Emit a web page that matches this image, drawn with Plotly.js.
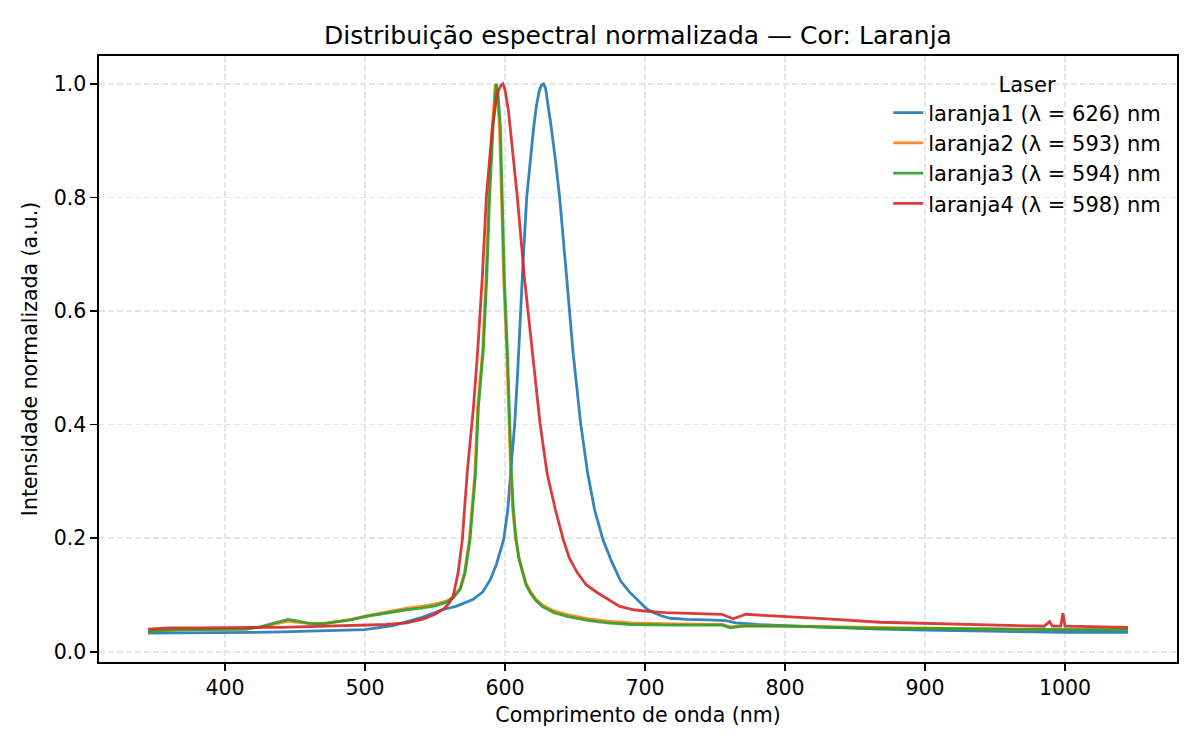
<!DOCTYPE html>
<html>
<head>
<meta charset="utf-8">
<script src="https://cdn.plot.ly/plotly-3.0.1.min.js"></script>
<style>
  body { margin: 0; background: #fff; }
  #grafico { width: 1200px; height: 750px; }
</style>
</head>
<body>
<div id="grafico"></div>
<script>
// Espectros normalizados (comprimento de onda em nm, intensidade normalizada)
const nomes = ['laranja1 (λ = 626) nm', 'laranja2 (λ = 593) nm', 'laranja3 (λ = 594) nm', 'laranja4 (λ = 598) nm'];
const cores = ['#1f77b4', '#ff7f0e', '#2ca02c', '#d62728'];

const wl1 = [345, 360, 380, 400, 420, 440, 460, 480, 500, 520, 540, 555, 565, 577, 584, 589.5, 594, 599, 602, 604, 607, 609, 611, 613, 615.5, 618, 620.5, 622.5, 624.5, 626, 627.5, 629, 631, 633, 636, 639, 644, 648.5, 654, 659, 664, 670, 676, 682.5, 689, 695, 701, 706, 712, 718, 730, 745, 758, 765, 780, 800, 820, 840, 868, 900, 940, 980, 1000, 1020, 1045];
const int1 = [0.033, 0.033, 0.033, 0.034, 0.034, 0.035, 0.036, 0.037, 0.039, 0.046, 0.060, 0.074, 0.080, 0.092, 0.105, 0.127, 0.155, 0.197, 0.250, 0.315, 0.403, 0.490, 0.600, 0.690, 0.800, 0.866, 0.924, 0.962, 0.988, 0.998, 1.000, 0.992, 0.962, 0.924, 0.866, 0.801, 0.660, 0.530, 0.403, 0.315, 0.250, 0.197, 0.160, 0.125, 0.105, 0.090, 0.076, 0.069, 0.063, 0.059, 0.057, 0.056, 0.055, 0.051, 0.048, 0.046, 0.044, 0.042, 0.040, 0.038, 0.036, 0.035, 0.034, 0.034, 0.034];

const wl2 = [345, 360, 380, 400, 415, 425, 435, 445, 452, 460, 470, 480, 490, 500, 510, 520, 530, 540, 550, 558, 563, 568, 571, 574.5, 578.5, 580.5, 584, 586.5, 588.5, 591, 593, 594.5, 596, 597.5, 599, 601.2, 602.5, 604, 605.5, 607.5, 610, 612.4, 615, 618, 622, 627, 635, 645, 660, 673, 690, 720, 740, 755, 761, 770, 800, 830, 868, 900, 940, 980, 1000, 1045];
const int2 = [0.036, 0.038, 0.039, 0.040, 0.040, 0.043, 0.049, 0.054, 0.052, 0.050, 0.050, 0.053, 0.057, 0.063, 0.068, 0.073, 0.077, 0.080, 0.084, 0.089, 0.096, 0.112, 0.139, 0.197, 0.315, 0.431, 0.530, 0.660, 0.801, 0.924, 1.000, 0.985, 0.924, 0.801, 0.660, 0.530, 0.420, 0.320, 0.250, 0.200, 0.166, 0.142, 0.121, 0.107, 0.093, 0.082, 0.072, 0.065, 0.058, 0.054, 0.051, 0.049, 0.049, 0.048, 0.044, 0.046, 0.045, 0.044, 0.042, 0.041, 0.040, 0.039, 0.039, 0.039];

const wl3 = [345, 360, 380, 400, 415, 425, 435, 445, 452, 460, 470, 480, 490, 500, 510, 520, 530, 540, 550, 558, 563, 568, 571.5, 575, 579, 581, 584.5, 587, 589, 591.5, 593.8, 595, 596.7, 598, 599.5, 601.7, 603, 604.5, 606, 608, 610, 612.4, 615, 618, 622, 627, 635, 645, 660, 673, 690, 720, 740, 755, 761, 770, 800, 830, 868, 900, 940, 980, 1000, 1045];
const int3 = [0.036, 0.038, 0.039, 0.040, 0.040, 0.044, 0.051, 0.057, 0.054, 0.050, 0.049, 0.052, 0.056, 0.062, 0.066, 0.071, 0.074, 0.077, 0.081, 0.087, 0.095, 0.110, 0.139, 0.197, 0.315, 0.431, 0.530, 0.660, 0.801, 0.924, 1.000, 0.985, 0.924, 0.801, 0.660, 0.530, 0.420, 0.320, 0.250, 0.197, 0.163, 0.139, 0.118, 0.104, 0.090, 0.079, 0.069, 0.062, 0.055, 0.051, 0.048, 0.047, 0.047, 0.047, 0.042, 0.045, 0.045, 0.043, 0.041, 0.041, 0.040, 0.039, 0.039, 0.039];

const wl4 = [345, 360, 380, 400, 420, 440, 460, 480, 500, 515, 530, 542, 550, 556, 560, 563, 566.5, 569.5, 573, 577.5, 580.5, 583.8, 586.7, 589, 591, 594.5, 597, 598.5, 600, 602.4, 606, 608.8, 613.8, 618, 620, 625, 630, 636, 641.7, 646, 651.7, 658, 666, 673, 682, 692, 702, 715, 730, 745, 755, 763, 772, 785, 802, 830, 868, 900, 920, 960, 985, 989, 991, 997, 998.5, 1000, 1020, 1045];
const int4 = [0.040, 0.042, 0.042, 0.043, 0.043, 0.043, 0.044, 0.045, 0.046, 0.048, 0.051, 0.058, 0.066, 0.075, 0.085, 0.098, 0.139, 0.197, 0.315, 0.431, 0.530, 0.660, 0.801, 0.870, 0.924, 0.984, 0.997, 1.000, 0.990, 0.954, 0.866, 0.801, 0.660, 0.560, 0.514, 0.403, 0.315, 0.250, 0.197, 0.165, 0.139, 0.118, 0.104, 0.093, 0.080, 0.074, 0.071, 0.069, 0.068, 0.068, 0.066, 0.058, 0.066, 0.064, 0.062, 0.058, 0.052, 0.050, 0.048, 0.046, 0.045, 0.053, 0.045, 0.045, 0.068, 0.045, 0.044, 0.043];

const xTicks = [400, 500, 600, 700, 800, 900, 1000];
const yTicks = [0.0, 0.2, 0.4, 0.6, 0.8, 1.0];

const fonte = 'DejaVu Sans, sans-serif';
const series = [[wl1, int1], [wl2, int2], [wl3, int3], [wl4, int4]];

const data = series.map((s, i) => ({
    x: s[0],
    y: s[1],
    type: 'scatter',
    mode: 'lines',
    name: nomes[i],
    opacity: 0.9,
    line: { color: cores[i], width: 2.8 }
}));

const eixoBase = {
    showline: true,
    mirror: true,
    linecolor: '#000',
    linewidth: 1.6,
    ticks: 'outside',
    ticklen: 7,
    tickwidth: 1.6,
    tickcolor: '#000',
    showgrid: true,
    gridcolor: '#e6e6e6',
    gridwidth: 1.5,
    griddash: '6px,3px',
    zeroline: false,
    tickfont: { family: fonte, size: 20.5, color: '#000' }
};

const layout = {
    width: 1200,
    height: 750,
    paper_bgcolor: '#fff',
    plot_bgcolor: '#fff',
    margin: { l: 99, r: 23, t: 56, b: 88 },
    font: { family: fonte, color: '#000' },
    title: {
        text: 'Distribuição espectral normalizada — Cor: Laranja',
        x: 0.5,
        xref: 'paper',
        xanchor: 'center',
        y: 0.953,
        yanchor: 'middle',
        yref: 'container',
        font: { family: fonte, size: 25, color: '#000' }
    },
    xaxis: Object.assign({}, eixoBase, {
        range: [310, 1080],
        tickvals: xTicks,
        ticktext: xTicks.map(String),
        title: { text: 'Comprimento de onda (nm)', standoff: 8, font: { family: fonte, size: 20.5, color: '#000' } }
    }),
    yaxis: Object.assign({}, eixoBase, {
        range: [-0.018, 1.049],
        tickvals: yTicks,
        ticktext: yTicks.map(v => v.toFixed(1)),
        title: { text: 'Intensidade normalizada (a.u.)', standoff: 10, font: { family: fonte, size: 20.5, color: '#000' } }
    }),
    showlegend: true,
    legend: {
        x: 0.99,
        xanchor: 'right',
        y: 0.985,
        yanchor: 'top',
        bgcolor: 'rgba(0,0,0,0)',
        borderwidth: 0,
        font: { family: fonte, size: 21, color: '#000' },
        title: { text: 'Laser', side: 'top center', font: { family: fonte, size: 21, color: '#000' } }
    }
};

Plotly.newPlot('grafico', data, layout, { displayModeBar: false, staticPlot: true });
</script>
</body>
</html>
